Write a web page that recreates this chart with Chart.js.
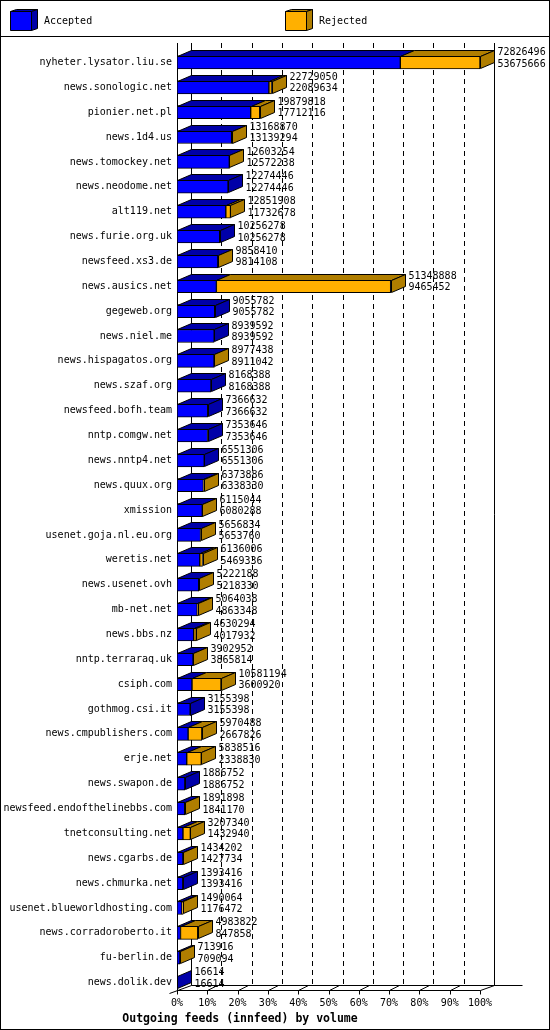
<!DOCTYPE html>
<html><head><meta charset="utf-8">
<script src="https://cdn.jsdelivr.net/npm/chart.js@4/dist/chart.umd.min.js"></script>
<style>html,body{margin:0;padding:0;background:#fff}canvas{display:block}</style>
</head><body>
<canvas id="c" width="550" height="1030"></canvas>
<script>
const categories = ['nyheter.lysator.liu.se','news.sonologic.net','pionier.net.pl','news.1d4.us','news.tomockey.net','news.neodome.net','alt119.net','news.furie.org.uk','newsfeed.xs3.de','news.ausics.net','gegeweb.org','news.niel.me','news.hispagatos.org','news.szaf.org','newsfeed.bofh.team','nntp.comgw.net','news.nntp4.net','news.quux.org','xmission','usenet.goja.nl.eu.org','weretis.net','news.usenet.ovh','mb-net.net','news.bbs.nz','nntp.terraraq.uk','csiph.com','gothmog.csi.it','news.cmpublishers.com','erje.net','news.swapon.de','newsfeed.endofthelinebbs.com','tnetconsulting.net','news.cgarbs.de','news.chmurka.net','usenet.blueworldhosting.com','news.corradoroberto.it','fu-berlin.de','news.dolik.dev'];
const offered = [72826496,22729050,19879818,13168870,12603254,12274446,12851908,10256278,9858410,51348888,9055782,8939592,8977438,8168388,7366632,7353646,6551306,6373886,6115044,5656834,6136006,5222188,5064038,4630294,3902952,10581194,3155398,5970488,5838516,1886752,1891898,3207340,1434202,1393416,1490064,4983822,713916,16614];
const accepted = [53675666,22089634,17712116,13139294,12572238,12274446,11732678,10256278,9814108,9465452,9055782,8939592,8911042,8168388,7366632,7353646,6551306,6338330,6080288,5653760,5469336,5218330,4863348,4017932,3865814,3600920,3155398,2667826,2338830,1886752,1841170,1432940,1427734,1393416,1176472,847858,709094,16614];
const xTickLabels = ['0%','10%','20%','30%','40%','50%','60%','70%','80%','90%','100%'];
const seriesNames = ['Accepted','Rejected'];
const chartTitle = 'Outgoing feeds (innfeed) by volume';

const maxVal = Math.max(...offered);
const acceptedPct = accepted.map(v => v / maxVal * 100);
const rejectedPct = offered.map((v, i) => (v - accepted[i]) / maxVal * 100);

const FRONT = ['#0000ff', '#ffb000'];
const DARK = ['#0000a8', '#b07e00'];
const DX = 14, DY = 6;
const FONT = "'DejaVu Sans Mono', monospace";

Chart.defaults.font.family = FONT;
Chart.defaults.font.size = 10;
Chart.defaults.color = '#000';

function poly(ctx, pts, fill) {
  ctx.beginPath();
  ctx.moveTo(pts[0][0], pts[0][1]);
  for (let k = 1; k < pts.length; k++) ctx.lineTo(pts[k][0], pts[k][1]);
  ctx.closePath();
  ctx.fillStyle = fill; ctx.fill();
  ctx.strokeStyle = '#000'; ctx.lineWidth = 1; ctx.stroke();
}
function line(ctx, x1, y1, x2, y2, dash) {
  ctx.save();
  ctx.setLineDash(dash || []);
  ctx.beginPath(); ctx.moveTo(x1, y1); ctx.lineTo(x2, y2);
  ctx.strokeStyle = '#000'; ctx.lineWidth = 1; ctx.stroke();
  ctx.restore();
}

const threeD = {
  id: 'threeD',
  beforeDraw(chart) {
    const ctx = chart.ctx;
    ctx.save(); ctx.fillStyle = '#fff'; ctx.fillRect(0, 0, chart.width, chart.height); ctx.restore();
  },
  beforeDatasetsDraw(chart) {
    const ctx = chart.ctx, ca = chart.chartArea, xs = chart.scales.x;
    const top = ca.top - 7, frontY = Math.round(ca.bottom - 5) + 0.5, floorY = frontY - 5;
    ctx.save();
    for (let v = 0; v <= 100; v += 10) {
      const x = Math.round(xs.getPixelForValue(v) + DX) + 0.5;
      line(ctx, x, top, x, floorY, (v === 0 || v === 100) ? [] : [5, 4]);
    }
    const x0 = Math.round(xs.getPixelForValue(0)) + 0.5;
    const x100 = Math.round(xs.getPixelForValue(100)) + 0.5;
    line(ctx, x0, top, x0, frontY + 3);
    line(ctx, x0 + DX, floorY, x100 + DX + 28, floorY);
    line(ctx, x0, frontY, x100, frontY);
    line(ctx, x0 - 8, frontY + 3, x0 + DX, floorY);
    line(ctx, x100, frontY, x100 + DX, floorY);
    for (let v = 0; v <= 100; v += 10) {
      const x = Math.round(xs.getPixelForValue(v)) + 0.5;
      line(ctx, x, frontY, x, frontY + 4);
      if (v > 0 && v < 100) line(ctx, x, frontY, x + 10, floorY);
    }
    ctx.restore();
  },
  afterDatasetsDraw(chart) {
    const ctx = chart.ctx;
    const m0 = chart.getDatasetMeta(0), m1 = chart.getDatasetMeta(1);
    ctx.save();
    ctx.lineJoin = 'miter';
    m0.data.forEach((el, i) => {
      const el1 = m1.data[i];
      const h = el.height;
      const yT = Math.round(el.y - h / 2) + 0.5, yB = Math.round(el.y + h / 2) - 0.5;
      const xs0 = Math.round(el.base) + 0.5, xa = Math.round(el.x) + 0.5, xt = Math.round(el1.x) + 0.5;
      if (xa > xs0) poly(ctx, [[xs0, yT], [xs0 + DX, yT - DY], [xa + DX, yT - DY], [xa, yT]], DARK[0]);
      if (xt > xa) poly(ctx, [[xa, yT], [xa + DX, yT - DY], [xt + DX, yT - DY], [xt, yT]], DARK[1]);
      const sideCol = (offered[i] - accepted[i]) > 0 ? DARK[1] : DARK[0];
      poly(ctx, [[xt, yT], [xt + DX, yT - DY], [xt + DX, yB - DY], [xt, yB]], sideCol);
      ctx.fillStyle = '#000';
      ctx.font = '10px ' + FONT;
      ctx.textAlign = 'left'; ctx.textBaseline = 'middle';
      const tx = xt + DX + 3;
      ctx.fillText(String(offered[i]), tx, el.y - 10);
      ctx.fillText(String(accepted[i]), tx, el.y + 1.5);
    });
    ctx.restore();
  },
  afterDraw(chart) {
    const ctx = chart.ctx;
    ctx.save();
    const lx = [10, 285];
    chart.data.datasets.forEach((ds, k) => {
      const x = lx[k] + 0.5, y = 11.5, w = 21, h = 19, d = 6, e = 2;
      poly(ctx, [[x, y], [x + d, y - e], [x + w + d, y - e], [x + w, y]], DARK[k]);
      poly(ctx, [[x + w, y], [x + w + d, y - e], [x + w + d, y + h - e], [x + w, y + h]], DARK[k]);
      poly(ctx, [[x, y], [x + w, y], [x + w, y + h], [x, y + h]], ds.backgroundColor);
      ctx.fillStyle = '#000';
      ctx.font = '10px ' + FONT;
      ctx.textAlign = 'left'; ctx.textBaseline = 'middle';
      ctx.fillText(ds.label, lx[k] + 34, 21);
    });
    line(ctx, 0, 36.5, chart.width, 36.5);
    ctx.strokeStyle = '#000'; ctx.lineWidth = 1;
    ctx.strokeRect(0.5, 0.5, chart.width - 1, chart.height - 1);
    ctx.restore();
  }
};

new Chart(document.getElementById('c'), {
  type: 'bar',
  data: {
    labels: categories,
    datasets: [
      { label: seriesNames[0], data: acceptedPct, backgroundColor: FRONT[0], borderColor: '#000', borderWidth: 1, borderSkipped: false, barThickness: 13 },
      { label: seriesNames[1], data: rejectedPct, backgroundColor: FRONT[1], borderColor: '#000', borderWidth: 1, borderSkipped: false, barThickness: 13 }
    ]
  },
  options: {
    indexAxis: 'y',
    responsive: false,
    animation: false,
    devicePixelRatio: 1,
    layout: { padding: { top: 50, right: 70, left: 0, bottom: 0 } },
    scales: {
      x: {
        stacked: true, min: 0, max: 100,
        ticks: { stepSize: 10, padding: 2, autoSkip: false, maxRotation: 0, callback: (v, i) => xTickLabels[i] },
        grid: { display: false, drawTicks: false },
        border: { display: false },
        afterFit(s) { s.height = 13.2; }
      },
      y: {
        stacked: true,
        ticks: { padding: 5, autoSkip: false },
        grid: { display: false, drawTicks: false },
        border: { display: false },
        afterFit(s) { s.width = 177; }
      }
    },
    plugins: {
      legend: { display: false },
      tooltip: { enabled: false },
      title: { display: true, position: 'bottom', text: chartTitle, color: '#000', font: { family: FONT, size: 11.5, weight: 'bold' }, padding: { top: 4, bottom: 4 } }
    }
  },
  plugins: [threeD]
});
</script>
</body></html>
